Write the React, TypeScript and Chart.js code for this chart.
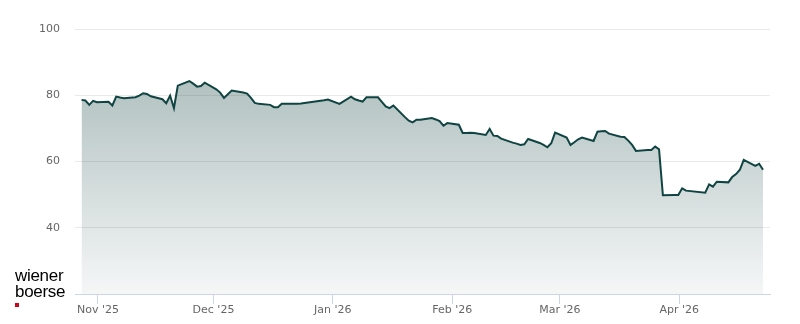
import React, { useEffect, useRef } from "react";
import { Chart, registerables } from "chart.js";

Chart.register(...registerables);

// Trading days (closing prices)
const tradeDates = [
  "2025-10-27", "2025-10-28", "2025-10-29", "2025-10-30", "2025-10-31",
  "2025-11-03", "2025-11-04", "2025-11-05", "2025-11-06", "2025-11-07",
  "2025-11-10", "2025-11-11", "2025-11-12", "2025-11-13", "2025-11-14",
  "2025-11-17", "2025-11-18", "2025-11-19", "2025-11-20", "2025-11-21",
  "2025-11-24", "2025-11-25", "2025-11-26", "2025-11-27", "2025-11-28",
  "2025-12-01", "2025-12-02", "2025-12-03", "2025-12-04", "2025-12-05",
  "2025-12-08", "2025-12-09", "2025-12-10", "2025-12-11", "2025-12-12",
  "2025-12-15", "2025-12-16", "2025-12-17", "2025-12-18", "2025-12-19",
  "2025-12-22", "2025-12-23", "2025-12-29", "2025-12-30",
  "2026-01-02",
  "2026-01-05", "2026-01-06", "2026-01-07", "2026-01-08", "2026-01-09",
  "2026-01-12", "2026-01-13", "2026-01-14", "2026-01-15", "2026-01-16",
  "2026-01-19", "2026-01-20", "2026-01-21", "2026-01-22", "2026-01-23",
  "2026-01-26", "2026-01-27", "2026-01-28", "2026-01-29", "2026-01-30",
  "2026-02-02", "2026-02-03", "2026-02-04", "2026-02-05", "2026-02-06",
  "2026-02-09", "2026-02-10", "2026-02-11", "2026-02-12", "2026-02-13",
  "2026-02-16", "2026-02-17", "2026-02-18", "2026-02-19", "2026-02-20",
  "2026-02-23", "2026-02-24", "2026-02-25", "2026-02-26", "2026-02-27",
  "2026-03-02", "2026-03-03", "2026-03-04", "2026-03-05", "2026-03-06",
  "2026-03-09", "2026-03-10", "2026-03-11", "2026-03-12", "2026-03-13",
  "2026-03-16", "2026-03-17", "2026-03-18", "2026-03-19", "2026-03-20",
  "2026-03-23", "2026-03-24", "2026-03-25", "2026-03-26", "2026-03-27",
  "2026-03-30", "2026-03-31", "2026-04-01", "2026-04-02",
  "2026-04-07", "2026-04-08", "2026-04-09", "2026-04-10",
  "2026-04-13", "2026-04-14", "2026-04-15", "2026-04-16", "2026-04-17",
  "2026-04-20", "2026-04-21", "2026-04-22",
];

const closes = [
  78.6, 78.4, 77.1, 78.3, 77.9,
  78.0, 76.9, 79.6, 79.3, 79.1,
  79.4, 79.9, 80.6, 80.4, 79.7,
  78.8, 77.6, 79.9, 76.1, 82.9,
  84.3, 83.5, 82.6, 82.8, 83.8,
  81.8, 80.8, 79.2, 80.3, 81.4,
  80.8, 80.5, 79.2, 77.7, 77.4,
  77.1, 76.4, 76.4, 77.4, 77.4,
  77.4, 77.5, 78.5, 78.7,
  77.4,
  79.6, 78.8, 78.4, 78.1, 79.4,
  79.4, 78.0, 76.6, 76.1, 76.9,
  73.4, 72.3, 71.8, 72.6, 72.6,
  73.1, 72.7, 72.2, 70.8, 71.6,
  71.1, 68.6, 68.6, 68.7, 68.6,
  68.0, 69.8, 67.8, 67.7, 66.9,
  65.7, 65.4, 65.0, 65.2, 66.8,
  65.6, 65.0, 64.3, 65.5, 68.7,
  67.2, 65.0, 65.8, 66.7, 67.2,
  66.2, 69.0, 69.1, 69.2, 68.4,
  67.5, 67.4, 66.3, 65.0, 63.2,
  63.5, 63.5, 64.5, 63.7, 49.8,
  49.9, 49.9, 51.9, 51.2,
  50.6, 53.1, 52.4, 53.9,
  53.7, 55.3, 56.2, 57.5, 60.5,
  58.7, 59.3, 57.5,
];

const monthTickDates = ["2025-11-01", "2025-12-01", "2026-01-01", "2026-02-01", "2026-03-01", "2026-04-01"];
const monthTickLabels = ["Nov '25", "Dec '25", "Jan '26", "Feb '26", "Mar '26", "Apr '26"];
const yTickValues = [20, 40, 60, 80, 100];

const BASE_MS = Date.UTC(2025, 9, 27);
const DAY_MS = 86400000;
const CLOSE_FRACTION = 0.73; // closing time of the session as a fraction of the day
const dayOf = (iso: string) => (Date.parse(iso + "T00:00:00Z") - BASE_MS) / DAY_MS;

export default function App() {
  const canvasRef = useRef<HTMLCanvasElement | null>(null);

  useEffect(() => {
    document.body.style.margin = "0";
    const canvas = canvasRef.current;
    if (!canvas) return;
    const points = tradeDates.map((d, i) => ({ x: dayOf(d) + CLOSE_FRACTION, y: closes[i] }));

    const chart = new Chart(canvas, {
      type: "line",
      data: {
        datasets: [
          {
            data: points,
            borderColor: "#0f4442",
            borderWidth: 2,
            pointRadius: 0,
            tension: 0,
            fill: "start",
            backgroundColor: (c: any) => {
              const ca = c.chart.chartArea;
              if (!ca) return "rgba(20,70,68,0.2)";
              const g = c.chart.ctx.createLinearGradient(0, ca.top, 0, ca.bottom);
              g.addColorStop(0, "rgba(22,68,66,0.4)");
              g.addColorStop(1, "rgba(22,68,66,0.045)");
              return g;
            },
          },
        ],
      },
      options: {
        animation: false,
        responsive: false,
        maintainAspectRatio: false,
        layout: { padding: { left: 0, right: 30, top: 29, bottom: 0 } },
        plugins: { legend: { display: false }, tooltip: { enabled: false } },
        scales: {
          x: {
            type: "linear",
            min: -0.97,
            max: 179.55,
            afterBuildTicks: (s: any) => {
              s.ticks = monthTickDates.map((t) => ({ value: dayOf(t) }));
            },
            afterFit: (s: any) => {
              s.height = 30;
            },
            ticks: {
              autoSkip: false,
              maxRotation: 0,
              color: "#666666",
              font: { family: "DejaVu Sans", size: 11 },
              padding: 0,
              callback: (_v: any, i: number) => monthTickLabels[i],
            },
            grid: { drawOnChartArea: false, drawTicks: true, tickLength: 10, color: "#ccd6eb" },
            border: { color: "#ccd6eb" },
          },
          y: {
            min: 20,
            max: 100,
            afterBuildTicks: (s: any) => {
              s.ticks = yTickValues.map((v) => ({ value: v }));
            },
            afterFit: (s: any) => {
              s.width = 75;
            },
            ticks: {
              color: "#666666",
              font: { family: "DejaVu Sans", size: 11 },
              padding: 15,
              callback: (v: any) => (v === yTickValues[0] ? "" : String(v)),
            },
            grid: {
              drawTicks: false,
              color: (c: any) => (c.tick && c.tick.value === yTickValues[0] ? "rgba(0,0,0,0)" : "#e9e9e9"),
            },
            border: { display: false },
          },
        },
      },
    });
    return () => chart.destroy();
  }, []);

  return (
    <div style={{ position: "relative", width: 800, height: 324, background: "#fff" }}>
      <canvas ref={canvasRef} width={800} height={324} style={{ display: "block" }} />
      <div
        style={{
          position: "absolute",
          left: 15,
          top: 268,
          fontFamily: "'Liberation Sans', Arial, sans-serif",
          fontSize: 17,
          lineHeight: "16px",
          color: "#000",
          letterSpacing: "-0.3px",
        }}
      >
        <div>wiener</div>
        <div>boerse</div>
        <div style={{ width: 4, height: 4, background: "#d0021b", marginTop: 3 }} />
      </div>
    </div>
  );
}
